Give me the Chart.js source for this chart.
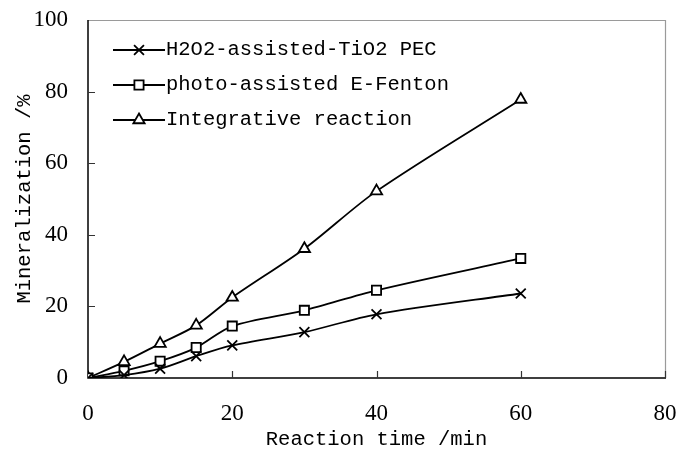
<!DOCTYPE html>
<html><head><meta charset="utf-8">
<script src="https://cdn.jsdelivr.net/npm/chart.js@4"></script>
<style>html,body{margin:0;padding:0;background:#fff;overflow:hidden}</style>
</head><body>
<canvas id="c" width="681" height="455"></canvas>
<script>
const times = [0, 5, 10, 15, 20, 30, 40, 60];
const pecValues = [0, 0.8, 2.6, 6.1, 9.1, 12.8, 17.8, 23.6];
const fentonValues = [0, 2.0, 4.7, 8.5, 14.5, 18.9, 24.5, 33.4];
const integrativeValues = [0, 4.5, 9.6, 14.7, 22.5, 36.1, 52.2, 77.8];
const seriesNames = ['H2O2-assisted-TiO2 PEC', 'photo-assisted E-Fenton', 'Integrative reaction'];
const pointStyles = ['crossRot', 'rect', 'triangle'];
const xTickValues = [0, 20, 40, 60, 80];
const yTickValues = [0, 20, 40, 60, 80, 100];
const xTitle = 'Reaction time /min';
const yTitle = 'Mineralization /%';

const monoFont = 'Liberation Mono';
const serifFont = 'Liberation Serif';

function toPoints(vals) { return times.map((t, i) => ({x: t, y: vals[i]})); }
const seriesValues = [pecValues, fentonValues, integrativeValues];
const pointRadii = [7, 6.5, 6.5];

const datasets = seriesValues.map((vals, i) => ({
  label: seriesNames[i],
  data: toPoints(vals),
  borderColor: '#000',
  borderWidth: 1.8,
  tension: 0.3,
  pointStyle: pointStyles[i],
  pointRadius: pointRadii[i],
  pointBorderWidth: 1.8,
  pointBackgroundColor: '#fff',
  pointBorderColor: '#000',
  fill: false
}));

function zeroPad(s) { s.paddingLeft = 0; s.paddingRight = 0; s.paddingTop = 0; s.paddingBottom = 0; }

const framePlugin = {
  id: 'frame',
  beforeDatasetsDraw(chart) {
    const {ctx, chartArea: a, scales: {x, y}} = chart;
    ctx.save();
    ctx.strokeStyle = '#9a9a9a';
    ctx.lineWidth = 1.2;
    ctx.beginPath();
    ctx.moveTo(a.left, a.top + 0.5); ctx.lineTo(a.right + 0.5, a.top + 0.5);
    ctx.lineTo(a.right + 0.5, a.bottom);
    ctx.stroke();
    ctx.strokeStyle = '#000';
    ctx.lineWidth = 1.5;
    ctx.beginPath();
    ctx.moveTo(a.left, a.top); ctx.lineTo(a.left, a.bottom); ctx.lineTo(a.right + 1, a.bottom);
    ctx.stroke();
    ctx.lineWidth = 1.2;
    ctx.strokeStyle = '#333';
    ctx.beginPath();
    yTickValues.forEach(v => {
      if (v === 0 || v === 100) return;
      const py = Math.round(y.getPixelForValue(v)) + 0.5;
      ctx.moveTo(a.left, py); ctx.lineTo(a.left + 7, py);
    });
    xTickValues.forEach(v => {
      if (v === 0) return;
      const px = Math.round(x.getPixelForValue(v)) + 0.5;
      ctx.moveTo(px, a.bottom); ctx.lineTo(px, a.bottom - 7);
    });
    ctx.stroke();
    ctx.restore();
  }
};

const legendPlugin = {
  id: 'insideLegend',
  afterDraw(chart) {
    const {ctx} = chart;
    const rows = [50, 85, 120];
    ctx.save();
    chart.data.datasets.forEach((ds, i) => {
      const yy = rows[i];
      ctx.strokeStyle = '#000';
      ctx.lineWidth = 1.8;
      ctx.beginPath();
      ctx.moveTo(113, yy); ctx.lineTo(165, yy);
      ctx.stroke();
      ctx.fillStyle = '#fff';
      ctx.strokeStyle = '#000';
      ctx.lineWidth = 1.8;
      Chart.helpers.drawPoint(ctx, {pointStyle: ds.pointStyle, radius: ds.pointRadius, borderWidth: 1.8}, 139, yy);
      ctx.fillStyle = '#000';
      ctx.font = '20.5px "' + monoFont + '"';
      ctx.textBaseline = 'middle';
      ctx.textAlign = 'left';
      ctx.fillText(ds.label, 166, yy);
    });
    ctx.restore();
  }
};

new Chart(document.getElementById('c'), {
  type: 'line',
  data: {datasets},
  options: {
    responsive: false,
    devicePixelRatio: 1,
    animation: false,
    layout: {padding: {top: 20, right: 16, left: 0, bottom: 0}},
    plugins: {legend: {display: false}, tooltip: {enabled: false}},
    scales: {
      x: {
        type: 'linear',
        min: 0, max: 80,
        afterBuildTicks(s) { s.ticks = xTickValues.map(v => ({value: v})); },
        afterFit(s) { s.height = 77; zeroPad(s); },
        grid: {display: false, drawTicks: false},
        border: {display: false},
        ticks: {color: '#000', padding: 22, font: {family: serifFont, size: 23}},
        title: {display: true, text: xTitle, color: '#000', font: {family: monoFont, size: 20.5}, padding: {top: 0, bottom: 3}}
      },
      y: {
        type: 'linear',
        min: 0, max: 100,
        afterBuildTicks(s) { s.ticks = yTickValues.map(v => ({value: v})); },
        afterFit(s) { s.width = 88; zeroPad(s); },
        grid: {display: false, drawTicks: false},
        border: {display: false},
        ticks: {color: '#000', padding: 20, font: {family: serifFont, size: 23}},
        title: {display: true, text: yTitle, color: '#000', font: {family: monoFont, size: 20.5}, padding: {top: 12, bottom: 0}}
      }
    }
  },
  plugins: [framePlugin, legendPlugin]
});
</script>
</body></html>
